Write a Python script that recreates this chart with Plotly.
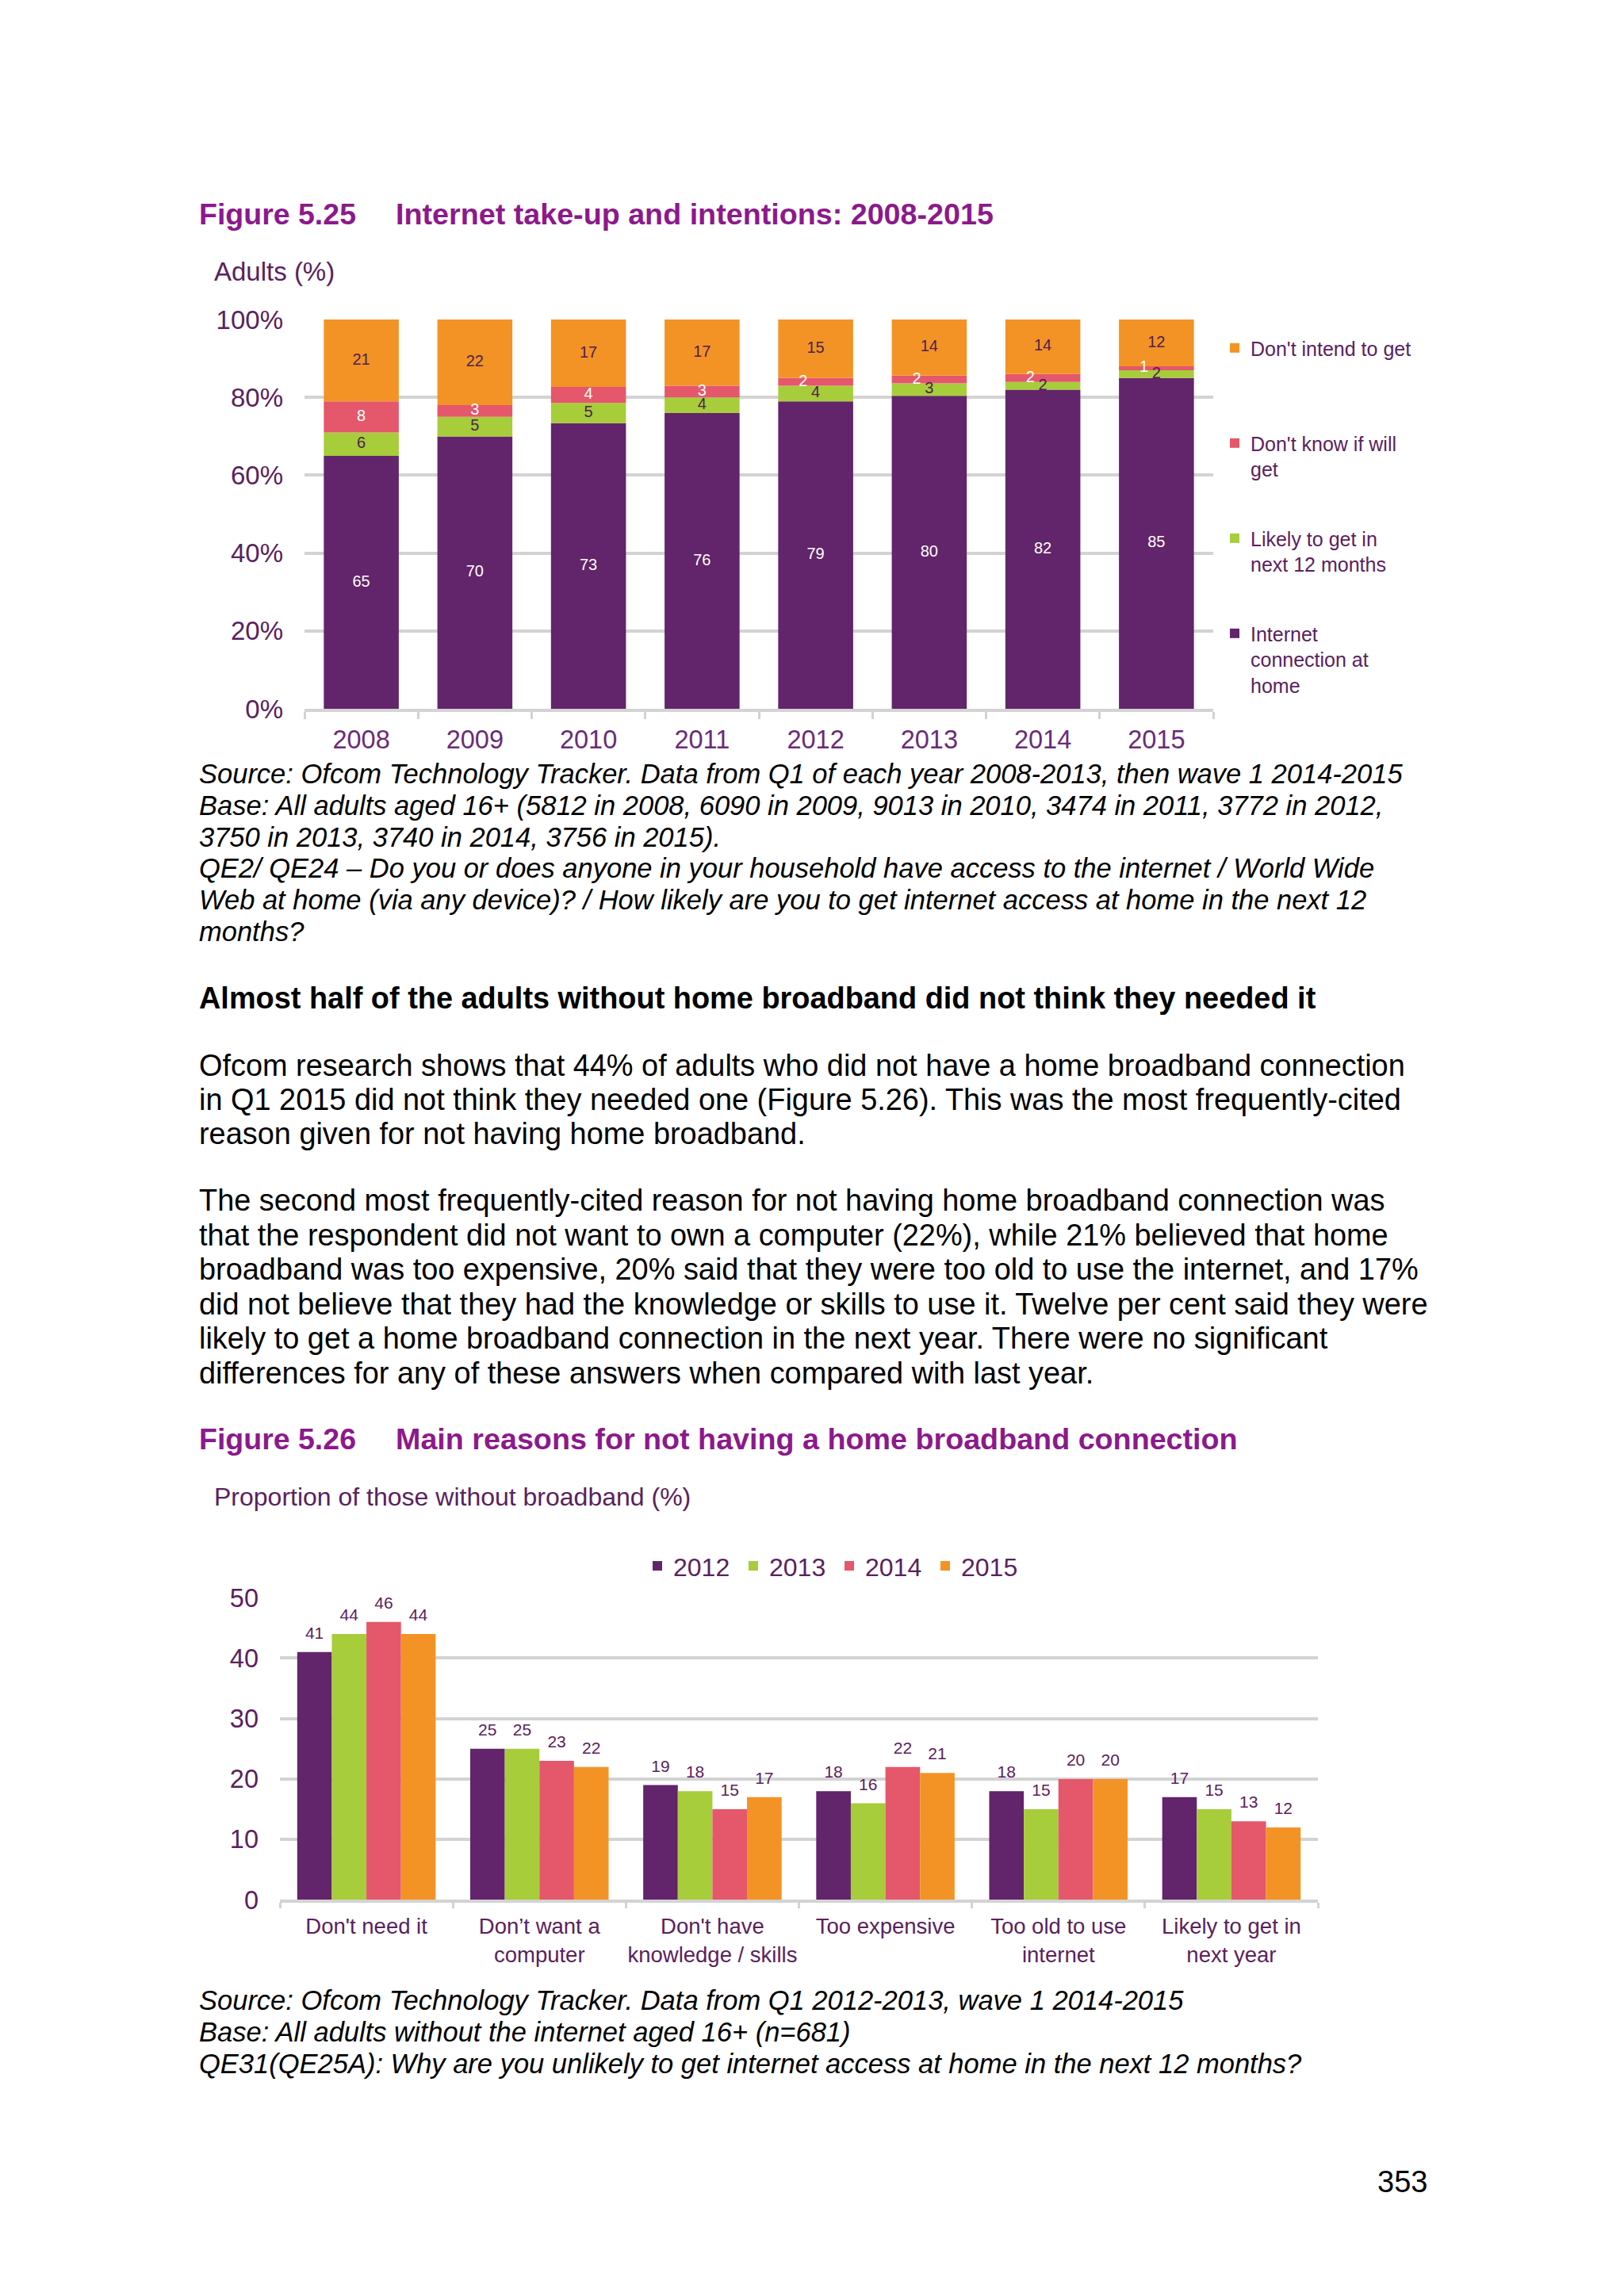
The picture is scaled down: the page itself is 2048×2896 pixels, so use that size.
import numpy as np
import plotly.graph_objects as go

# page is 2048x2896; the html body has an 8px margin, so the figure is sized to fit inside it
PAGE_W, PAGE_H = 2048, 2896
OFF = 8
FW, FH = PAGE_W - 2 * OFF, PAGE_H - 2 * OFF - 4
# measured vertical mapping of the rendered page: screen_y = V0 + VS * page_y
V0, VS = 18.1, 0.987
FONT = "Liberation Sans, Arial, sans-serif"

# ---------------- DATA: Figure 5.25 ----------------
years = ["2008", "2009", "2010", "2011", "2012", "2013", "2014", "2015"]
internet_home = [65, 70, 73.4, 76, 79, 80.4, 82, 85]
likely_12m = [6, 5, 5.2, 4, 4, 3.2, 2, 2]
dont_know = [8, 3, 4.1, 3, 2, 2, 2, 1]
dont_intend = [21, 22, 17.3, 17, 15, 14.4, 14, 12]
y1_tickvals = [0, 20, 40, 60, 80, 100]
y1_ticktext = ["0%", "20%", "40%", "60%", "80%", "100%"]

# ---------------- DATA: Figure 5.26 ----------------
reasons = ["Don't need it", "Don’t want a<br>computer", "Don't have<br>knowledge / skills",
           "Too expensive", "Too old to use<br>internet", "Likely to get in<br>next year"]
survey_years = ["2012", "2013", "2014", "2015"]
r2012 = [41, 25, 19, 18, 18, 17]
r2013 = [44, 25, 18, 16, 15, 15]
r2014 = [46, 23, 15, 22, 20, 13]
r2015 = [44, 22, 17, 21, 20, 12]
y2_tickvals = [0, 10, 20, 30, 40, 50]

# ---------------- STYLE ----------------
PURPLE = "#62246A"
GREEN = "#A7CD3A"
PINK = "#E5576B"
ORANGE = "#F39325"
GRID = "#D3D3D3"
TXT_PURPLE = "#5A2160"
YEAR_PURPLE = "#6B2A7B"
TITLE_PURPLE = "#8C198C"
LABEL_DARK = "#4E2150"


def px(x):
    return (x - OFF) / FW


def py(y):
    page_y = (y - V0) / VS
    return 1 - (page_y - OFF) / FH


fig = go.Figure()

# ---- Figure 5.25 stacked bars (stack built through base offsets) ----
series1 = [
    ("Internet<br>connection at<br>home", internet_home, PURPLE, "white", "legend4", False),
    ("Likely to get in<br>next 12 months", likely_12m, GREEN, LABEL_DARK, "legend3", False),
    ("Don't know if will<br>get", dont_know, PINK, "white", "legend2", True),
    ("Don't intend to get", dont_intend, ORANGE, LABEL_DARK, "legend", False),
]
base = np.zeros(len(years))
lab_x, lab_y, lab_t, lab_pos, lab_col = [], [], [], [], []
for name, vals, color, tcol, lg, nudge_small in series1:
    v = np.array(vals, dtype=float)
    fig.add_trace(go.Bar(
        x=years, y=vals, base=base.copy(), name=name,
        marker=dict(color=color, line=dict(width=0)),
        width=0.66, offsetgroup="stack", xaxis="x", yaxis="y", legend=lg,
        hoverinfo="skip",
    ))
    # segment labels at the middle of each segment
    lab_x += years
    lab_y += list(base + v / 2)
    lab_t += [f"{a:.0f}" for a in vals]
    lab_pos += ["middle left" if (nudge_small and a <= 2.05) else "middle center" for a in vals]
    lab_col += [tcol] * len(years)
    base = base + v

fig.add_trace(go.Scatter(
    x=lab_x, y=lab_y, mode="markers+text", text=lab_t, textposition=lab_pos,
    marker=dict(size=15, opacity=0),
    textfont=dict(family=FONT, size=20, color=lab_col),
    xaxis="x", yaxis="y", showlegend=False, cliponaxis=False, hoverinfo="skip",
))

# ---- Figure 5.26 grouped bars ----
series2 = [(survey_years[0], r2012, PURPLE), (survey_years[1], r2013, GREEN),
           (survey_years[2], r2014, PINK), (survey_years[3], r2015, ORANGE)]
for i, (name, vals, color) in enumerate(series2):
    fig.add_trace(go.Bar(
        x=reasons, y=vals, name=name,
        marker=dict(color=color, line=dict(width=0)),
        offsetgroup=str(i), xaxis="x2", yaxis="y2", legend="legend5",
        hoverinfo="skip",
    ))
# value labels above the grouped bars
for i, (name, vals, color) in enumerate(series2):
    fig.add_trace(go.Scatter(
        x=reasons, y=vals, mode="markers+text", text=[str(v) for v in vals],
        textposition="top center", marker=dict(size=17, opacity=0),
        textfont=dict(family=FONT, size=21, color=TXT_PURPLE),
        offsetgroup=str(i), xaxis="x2", yaxis="y2", showlegend=False,
        cliponaxis=False, hoverinfo="skip",
    ))

axis_common = dict(showline=True, linecolor=GRID, linewidth=4, ticks="outside",
                   tickson="boundaries", tickwidth=3, tickcolor=GRID, showgrid=False,
                   zeroline=False, type="category", tickangle=0)

fig.update_layout(
    width=FW, height=FH, margin=dict(l=0, r=0, t=0, b=0),
    paper_bgcolor="white", plot_bgcolor="white",
    barmode="group", bargap=0.2, bargroupgap=0,
    scattermode="group", scattergap=0.2,
    font=dict(family=FONT, color=TXT_PURPLE),
    xaxis=dict(domain=[px(384), px(1530)], anchor="y", range=[-0.5, 7.5], ticklen=9,
               ticklabelstandoff=7,
               tickfont=dict(family=FONT, size=32.5, color=YEAR_PURPLE), **axis_common),
    yaxis=dict(domain=[py(894), py(403)], anchor="x", range=[0, 100],
               tickvals=y1_tickvals, ticktext=y1_ticktext, showgrid=True,
               gridcolor=GRID, gridwidth=4, zeroline=False, showline=False,
               ticks="", ticklabelstandoff=26,
               tickfont=dict(family=FONT, size=33, color=TXT_PURPLE)),
    xaxis2=dict(domain=[px(353), px(1662)], anchor="y2", range=[-0.5, 5.5], ticklen=7,
                ticklabelstandoff=6,
                tickfont=dict(family=FONT, size=27.5, color=TXT_PURPLE), **axis_common),
    yaxis2=dict(domain=[py(2396), py(2015)], anchor="x2", range=[0, 50],
                tickvals=y2_tickvals, showgrid=True, gridcolor=GRID, gridwidth=4,
                zeroline=False, showline=False, ticks="", ticklabelstandoff=26,
                tickfont=dict(family=FONT, size=32.5, color=TXT_PURPLE)),
    showlegend=True,
)

leg_common = dict(xanchor="left", yanchor="top", bgcolor="rgba(0,0,0,0)", borderwidth=0,
                  valign="top", font=dict(family=FONT, size=25, color=TXT_PURPLE),
                  itemclick=False, itemdoubleclick=False)
fig.update_layout(
    legend=dict(x=px(1537), y=py(416), **leg_common),
    legend2=dict(x=px(1537), y=py(536), **leg_common),
    legend3=dict(x=px(1537), y=py(656), **leg_common),
    legend4=dict(x=px(1537), y=py(776), **leg_common),
    legend5=dict(x=px(809), y=py(1975), xanchor="left", yanchor="middle",
                 orientation="h", bgcolor="rgba(0,0,0,0)", entrywidth=76,
                 entrywidthmode="pixels",
                 font=dict(family=FONT, size=32, color=TXT_PURPLE),
                 itemclick=False, itemdoubleclick=False),
)

# ---------------- page text ----------------
def text(x, y, s, size, color="black", anchor="left"):
    fig.add_annotation(x=px(x), y=py(y), xref="paper", yref="paper", text=s,
                       showarrow=False, xanchor=anchor, yanchor="middle",
                       font=dict(family=FONT, size=size, color=color), align="left")


text(249, 270, "<b>Figure 5.25</b>", 37.5, TITLE_PURPLE)
text(497, 270, "<b>Internet take-up and intentions: 2008-2015</b>", 37.7, TITLE_PURPLE)
text(268, 342, "Adults (%)", 33, TXT_PURPLE)

src1 = [
    "Source: Ofcom Technology Tracker. Data from Q1 of each year 2008-2013, then wave 1 2014-2015",
    "Base: All adults aged 16+ (5812 in 2008, 6090 in 2009, 9013 in 2010, 3474 in 2011, 3772 in 2012,",
    "3750 in 2013, 3740 in 2014, 3756 in 2015).",
    "QE2/ QE24 – Do you or does anyone in your household have access to the internet / World Wide",
    "Web at home (via any device)? / How likely are you to get internet access at home in the next 12",
    "months?",
]
for i, s in enumerate(src1):
    text(249, 976 + i * 39.7, "<i>" + s + "</i>", 34.5)

text(249, 1259, "<b>Almost half of the adults without home broadband did not think they needed it</b>", 37.9)

para1 = [
    "Ofcom research shows that 44% of adults who did not have a home broadband connection",
    "in Q1 2015 did not think they needed one (Figure 5.26). This was the most frequently-cited",
    "reason given for not having home broadband.",
]
for i, s in enumerate(para1):
    text(249, 1344 + i * 43.0, s, 37.9)

para2 = [
    "The second most frequently-cited reason for not having home broadband connection was",
    "that the respondent did not want to own a computer (22%), while 21% believed that home",
    "broadband was too expensive, 20% said that they were too old to use the internet, and 17%",
    "did not believe that they had the knowledge or skills to use it. Twelve per cent said they were",
    "likely to get a home broadband connection in the next year. There were no significant",
    "differences for any of these answers when compared with last year.",
]
for i, s in enumerate(para2):
    text(249, 1514 + i * 43.5, s, 37.9)

text(249, 1815, "<b>Figure 5.26</b>", 37.5, TITLE_PURPLE)
text(497, 1815, "<b>Main reasons for not having a home broadband connection</b>", 37.7, TITLE_PURPLE)
text(268, 1888, "Proportion of those without broadband (%)", 32, TXT_PURPLE)

src2 = [
    "Source: Ofcom Technology Tracker. Data from Q1 2012-2013, wave 1 2014-2015",
    "Base: All adults without the internet aged 16+ (n=681)",
    "QE31(QE25A): Why are you unlikely to get internet access at home in the next 12 months?",
]
for i, s in enumerate(src2):
    text(249, 2523 + i * 40, "<i>" + s + "</i>", 34.5)

text(1768, 2752, "353", 38, "black", anchor="center")

fig.write_html("out.html")
